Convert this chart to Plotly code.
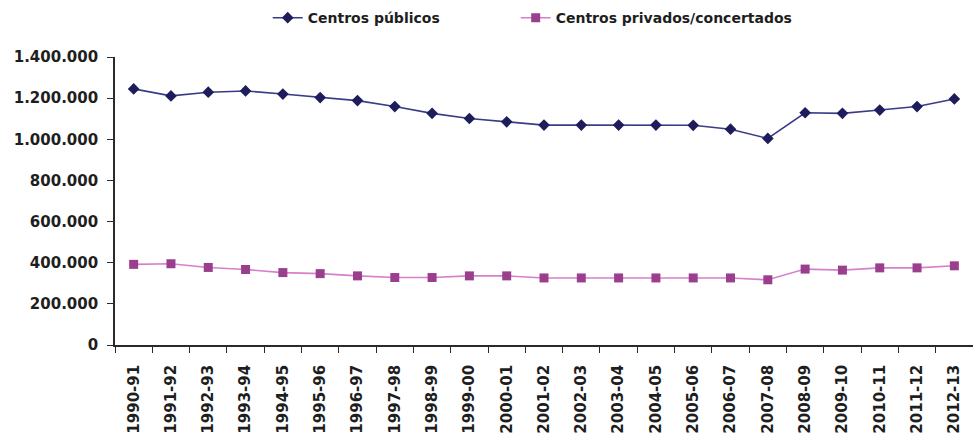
import plotly.graph_objects as go

# Curso académico
cursos = [
    "1990-91", "1991-92", "1992-93", "1993-94", "1994-95", "1995-96",
    "1996-97", "1997-98", "1998-99", "1999-00", "2000-01", "2001-02",
    "2002-03", "2003-04", "2004-05", "2005-06", "2006-07", "2007-08",
    "2008-09", "2009-10", "2010-11", "2011-12", "2012-13",
]

# Alumnado por titularidad del centro
centros_publicos = [
    1245000, 1211000, 1229000, 1235000, 1220000, 1203000,
    1188000, 1159000, 1126000, 1101000, 1085000, 1069000,
    1069000, 1069000, 1069000, 1068000, 1049000, 1004000,
    1129000, 1126000, 1142000, 1159000, 1196000,
]
centros_privados = [
    392000, 395000, 377000, 367000, 352000, 347000,
    336000, 328000, 328000, 336000, 336000, 326000,
    326000, 326000, 326000, 326000, 326000, 317000,
    369000, 364000, 375000, 375000, 385000,
]

y_ticks = [0, 200000, 400000, 600000, 800000, 1000000, 1200000, 1400000]

FONT = "DejaVu Sans"
TEXT = "#1e1e1e"
AXIS = "#2a2a2a"

fig = go.Figure()
fig.add_trace(go.Scatter(
    x=cursos, y=centros_publicos, name="Centros públicos",
    mode="lines+markers", legend="legend",
    line=dict(color="#3b3b85", width=1.6),
    marker=dict(symbol="diamond", size=9, color="#1d1d5c"),
))
fig.add_trace(go.Scatter(
    x=cursos, y=centros_privados, name="Centros privados/concertados",
    mode="lines+markers", legend="legend2",
    line=dict(color="#d680cc", width=1.6),
    marker=dict(symbol="square", size=9, color="#9a3f8e"),
))

legend_style = dict(
    orientation="h", xanchor="left", y=1.135, yanchor="middle",
    font=dict(family=FONT, size=14, color=TEXT, weight="bold"),
    bgcolor="rgba(0,0,0,0)",
)

fig.update_layout(
    width=973, height=440,
    margin=dict(l=115, r=0, t=57, b=95, autoexpand=False),
    paper_bgcolor="white", plot_bgcolor="white",
    separators=",.",
    font=dict(family=FONT, size=14, color=TEXT, weight="bold"),
    showlegend=True,
    legend=dict(x=0.178, **legend_style),
    legend2=dict(x=0.467, **legend_style),
)
fig.update_xaxes(
    type="category", range=[-0.5, len(cursos) - 0.5],
    tickangle=-90, tickson="boundaries",
    ticks="outside", ticklen=6, tickwidth=1.2, tickcolor=AXIS,
    showline=True, linecolor=AXIS, linewidth=1.6,
    showgrid=False, zeroline=False,
    ticklabelstandoff=12,
    tickfont=dict(family=FONT, size=15, color=TEXT, weight="bold"),
)
fig.update_yaxes(
    range=[0, 1400000], tickvals=y_ticks, tickformat=",d",
    ticks="outside", ticklen=6, tickwidth=1.2, tickcolor=AXIS,
    showline=True, linecolor=AXIS, linewidth=1.6,
    showgrid=False, zeroline=False,
    ticklabelstandoff=6,
    tickfont=dict(family=FONT, size=15, color=TEXT, weight="bold"),
)

fig.write_html("out.html")
